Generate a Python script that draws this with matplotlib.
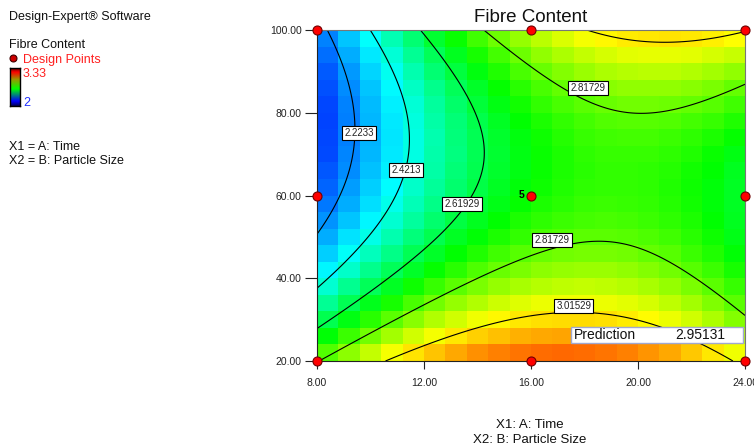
import numpy as np
import matplotlib
matplotlib.use("Agg")
import matplotlib.pyplot as plt
from matplotlib.colors import LinearSegmentedColormap

# Fitted quadratic model for Fibre Content in coded factors
# (A: Time, B: Particle Size), terms: 1, A, B, AB, A^2, B^2
model_terms = ["Intercept", "A", "B", "AB", "A^2", "B^2"]
model_coefs = [2.715, 0.256, -0.150, 0.169, -0.330, 0.362]

time_range = [8.0, 24.0]
size_range = [20.0, 100.0]
x_ticks = [8.0, 12.0, 16.0, 20.0, 24.0]
y_ticks = [20.0, 40.0, 60.0, 80.0, 100.0]

contour_levels = [2.2233, 2.4213, 2.61929, 2.81729, 3.01529]
color_low, color_high = 2.0, 3.33

design_time = [8, 16, 24, 8, 16, 24, 8, 16, 24]
design_size = [20, 20, 20, 60, 60, 60, 100, 100, 100]
center_replicates = 5
prediction_value = 2.95131

# label anchors (data coords) for each drawn contour label
label_spots = [
    (2.2233, 9.57, 75.1),
    (2.4213, 11.33, 66.2),
    (2.61929, 13.42, 57.9),
    (2.81729, 16.79, 49.2),
    (2.81729, 18.13, 86.0),
    (3.01529, 17.60, 33.3),
]


def fibre(t, s):
    a = (t - 16.0) / 8.0
    b = (s - 60.0) / 40.0
    c0, ca, cb, cab, caa, cbb = model_coefs
    return c0 + ca * a + cb * b + cab * a * b + caa * a * a + cbb * b * b


cmap = LinearSegmentedColormap.from_list(
    "de", [(0.0, (0.0, 0.0, 1.0)), (0.30, (0.0, 1.0, 1.0)),
           (0.53, (0.0, 1.0, 0.0)), (0.75, (1.0, 1.0, 0.0)),
           (1.0, (1.0, 0.0, 0.0))])

W, H = 754, 447
fig = plt.figure(figsize=(W / 100, H / 100), dpi=100)
plt.rcParams["font.family"] = ["Liberation Sans", "DejaVu Sans"]

ax = fig.add_axes([317 / W, 1 - 361 / H, (745 - 317) / W, (361 - 30) / H])

# coloured cells (20 x 20)
xe = np.linspace(time_range[0], time_range[1], 21)
ye = np.linspace(size_range[0], size_range[1], 21)
xc = 0.5 * (xe[:-1] + xe[1:])
yc = 0.5 * (ye[:-1] + ye[1:])
XC, YC = np.meshgrid(xc, yc)
ax.pcolormesh(xe, ye, fibre(XC, YC), cmap=cmap, vmin=color_low,
              vmax=color_high, shading="flat")

# contour lines on a fine grid
xf = np.linspace(time_range[0], time_range[1], 300)
yf = np.linspace(size_range[0], size_range[1], 300)
XF, YF = np.meshgrid(xf, yf)
ax.contour(XF, YF, fibre(XF, YF), levels=contour_levels, colors="black",
           linewidths=0.8)

for val, lx, ly in label_spots:
    ax.text(lx, ly, f"{val:g}", fontsize=7, color="#222222", ha="center",
            va="center",
            bbox=dict(boxstyle="square,pad=0.22", fc="white", ec="black",
                      lw=0.8), zorder=5)

# design points
ax.plot(design_time, design_size, "o", ms=6.5, mfc="#ff0000", mec="#700000",
        mew=0.8, clip_on=False, zorder=6)
ax.annotate(str(center_replicates), (16, 60), xytext=(-6.5, 0),
            textcoords="offset points", ha="center", va="center",
            fontsize=7.5, fontweight="bold", color="black", zorder=7)

# prediction flag
pred_box = plt.Rectangle((17.50, 24.35), 6.43, 3.87, fc="white",
                         ec="#a0a8d0", lw=1.0, zorder=7, clip_on=False)
ax.add_patch(pred_box)
ax.text(17.62, 26.2, "Prediction", fontsize=10, color="#111111",
        ha="left", va="center", zorder=8)
ax.text(23.28, 26.2, f"{prediction_value:.5f}", fontsize=10,
        color="#111111", ha="right", va="center", zorder=8)

ax.set_xlim(time_range)
ax.set_ylim(size_range)
ax.set_xticks(x_ticks)
ax.set_yticks(y_ticks)
ax.set_xticklabels([f"{v:.2f}" for v in x_ticks])
ax.set_yticklabels([f"{v:.2f}" for v in y_ticks])
ax.tick_params(axis="x", direction="out", length=6, width=0.8, pad=6,
               labelsize=7.5, colors="#222222")
ax.tick_params(axis="y", direction="out", length=9, width=0.8, pad=2,
               labelsize=7.5, colors="#222222")
for side in ("left", "bottom"):
    ax.spines[side].set_color("#222222")
    ax.spines[side].set_linewidth(0.8)
for side in ("top", "right"):
    ax.spines[side].set_color("#777777")
    ax.spines[side].set_linewidth(0.8)

fig.text(531 / W, 1 - 22 / H, "Fibre Content", fontsize=13.5, ha="center",
         va="baseline", color="#111111")

# axis descriptions
fig.text(530 / W, 1 - 425 / H, "X1: A: Time", fontsize=9.5, ha="center",
         va="center", color="#111111")
fig.text(530 / W, 1 - 440 / H, "X2: B: Particle Size", fontsize=9.5,
         ha="center", va="center", color="#111111")

# side panel
side_fs = 9
fig.text(9 / W, 1 - 17 / H, "Design-Expert\u00ae Software", fontsize=side_fs,
         va="center", color="#111111")
fig.text(9 / W, 1 - 45 / H, "Fibre Content", fontsize=side_fs, va="center",
         color="#111111")
fig.lines.append(plt.Line2D([13 / W], [1 - 58 / H], marker="o", ms=5,
                            mfc="#cc0000", mec="#400000", mew=0.8,
                            transform=fig.transFigure))
fig.text(23 / W, 1 - 60 / H, "Design Points", fontsize=side_fs, va="center",
         color="#ff2020")
cax = fig.add_axes([10 / W, 1 - 106 / H, 10 / W, 38 / H])
bar_cmap = LinearSegmentedColormap.from_list(
    "bar", [(0.0, (0.0, 0.0, 0.35)), (0.12, (0.0, 0.0, 1.0)),
            (0.45, (0.0, 1.0, 0.0)), (0.7, (0.6, 0.6, 0.0)),
            (0.9, (1.0, 0.0, 0.0)), (1.0, (0.4, 0.0, 0.0))])
cax.imshow(np.linspace(0, 1, 64)[:, None], cmap=bar_cmap, aspect="auto",
           origin="lower")
cax.set_xticks([])
cax.set_yticks([])
for sp in cax.spines.values():
    sp.set_color("black")
    sp.set_linewidth(1.0)
fig.text(23 / W, 1 - 74 / H, f"{color_high:g}", fontsize=side_fs,
         va="center", color="#ff2020")
fig.text(23 / W, 1 - 103 / H, f"{color_low:g}", fontsize=side_fs,
         va="center", color="#2030ff")
fig.text(9 / W, 1 - 147 / H, "X1 = A: Time", fontsize=side_fs, va="center",
         color="#111111")
fig.text(9 / W, 1 - 161 / H, "X2 = B: Particle Size", fontsize=side_fs,
         va="center", color="#111111")

fig.savefig("out.png", dpi=100)
